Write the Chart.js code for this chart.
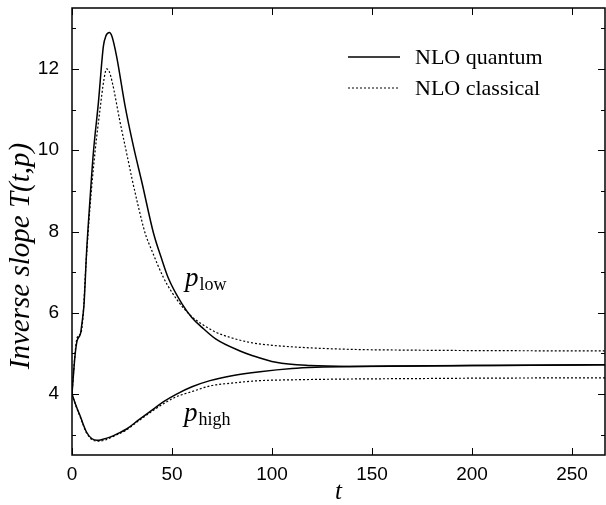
<!DOCTYPE html>
<html>
<head>
<meta charset="utf-8">
<script src="https://cdn.jsdelivr.net/npm/chart.js@4"></script>
<style>
  html, body { margin: 0; padding: 0; background: #fff; }
  #wrap { width: 606px; height: 505px; }
</style>
</head>
<body>
<div id="wrap"><canvas id="c"></canvas></div>
<script>
// p_low branch
const tLowQ = [0, 1.5, 2.5, 4.3, 5, 6, 7.3, 9, 10.7, 13.2, 15.7, 17, 18.7, 20, 22.3, 26.5, 30.7, 35, 40.7, 45, 48.2, 55, 60, 65, 72, 84, 90, 102, 119, 139, 170, 200, 230, 266.5];
const quantumLow = [4, 4.94, 5.3, 5.5, 5.75, 6.2, 7.5, 8.79, 9.95, 11.17, 12.56, 12.82, 12.9, 12.8, 12.31, 11.1, 10.1, 9.2, 7.97, 7.3, 6.85, 6.22, 5.88, 5.64, 5.35, 5.06, 4.95, 4.78, 4.7, 4.68, 4.69, 4.7, 4.71, 4.72];
const tLowC = [0, 1.2, 2.2, 3.5, 4.5, 5.5, 7, 9, 11.5, 14, 16, 17.3, 18.5, 20, 24, 27, 30, 33, 36.5, 40, 45.7, 50, 55, 60, 65, 72, 80, 89, 100, 114, 139, 170, 200, 230, 266.5];
const classicalLow = [4, 4.8, 5.3, 5.45, 5.5, 5.9, 7.2, 8.6, 9.95, 11.0, 11.75, 12.0, 11.95, 11.7, 10.7, 10.0, 9.3, 8.65, 7.97, 7.52, 6.87, 6.5, 6.16, 5.9, 5.72, 5.52, 5.38, 5.27, 5.2, 5.15, 5.1, 5.08, 5.07, 5.065, 5.06];

// p_high branch
const tHighQ = [0, 2, 4, 7.3, 10, 12.5, 15, 19, 23, 27.3, 33, 40.7, 46, 52.3, 60, 69, 80, 94, 110, 122, 140, 170, 200, 266.5];
const quantumHigh = [4, 3.72, 3.47, 3.06, 2.9, 2.86, 2.88, 2.94, 3.03, 3.14, 3.35, 3.63, 3.82, 4.0, 4.18, 4.33, 4.45, 4.55, 4.63, 4.66, 4.68, 4.69, 4.7, 4.72];
const tHighC = [0, 2, 4, 7.3, 10, 13, 16, 19, 23, 27.3, 33, 40.7, 46, 52, 60, 69, 80, 94, 110, 139, 170, 200, 266.5];
const classicalHigh = [4, 3.7, 3.45, 3.04, 2.88, 2.84, 2.86, 2.92, 3.01, 3.12, 3.33, 3.6, 3.77, 3.93, 4.06, 4.2, 4.27, 4.33, 4.35, 4.37, 4.38, 4.39, 4.4];

const xTicks = [0, 50, 100, 150, 200, 250];
const yTicks = [3, 4, 5, 6, 7, 8, 9, 10, 11, 12, 13];
const yLabelled = [4, 6, 8, 10, 12];

function pts(ts, vs) {
    return ts.map((t, i) => ({x: t, y: vs[i]}));
}

const serif = '"Liberation Serif", "DejaVu Serif", serif';
const sans = '"Liberation Sans", Arial, sans-serif';

const solid = {borderColor: '#000', borderWidth: 1.5, pointRadius: 0, fill: false, cubicInterpolationMode: 'monotone'};
const dotted = {borderColor: '#000', borderWidth: 1.2, borderDash: [2, 2], pointRadius: 0, fill: false, cubicInterpolationMode: 'monotone'};

// frame, inward ticks, axis titles, legend and branch labels
const decor = {
    id: 'decor',
    afterDatasetsDraw(chart) {
        const ctx = chart.ctx, a = chart.chartArea;
        const x = chart.scales.x, y = chart.scales.y;
        ctx.save();
        ctx.strokeStyle = '#000';
        ctx.lineWidth = 1.5;
        ctx.strokeRect(a.left, a.top, a.right - a.left, a.bottom - a.top);
        ctx.lineWidth = 1;
        ctx.beginPath();
        x.ticks.forEach(t => {
            const px = Math.round(x.getPixelForValue(t.value)) + 0.5;
            ctx.moveTo(px, a.bottom); ctx.lineTo(px, a.bottom - 7);
            ctx.moveTo(px, a.top); ctx.lineTo(px, a.top + 7);
        });
        y.ticks.forEach(t => {
            const py = Math.round(y.getPixelForValue(t.value)) + 0.5;
            const len = yLabelled.includes(t.value) ? 7 : 4;
            ctx.moveTo(a.left, py); ctx.lineTo(a.left + len, py);
            ctx.moveTo(a.right, py); ctx.lineTo(a.right - len, py);
        });
        ctx.stroke();

        ctx.fillStyle = '#000';
        // axis titles
        ctx.font = 'italic 25px ' + serif;
        ctx.textAlign = 'center';
        ctx.textBaseline = 'middle';
        ctx.fillText('t', (a.left + a.right) / 2, 492);
        ctx.save();
        ctx.translate(21, 256);
        ctx.rotate(-Math.PI / 2);
        ctx.font = 'italic 29px ' + serif;
        ctx.fillText('Inverse slope T(t,p)', 0, 0);
        ctx.restore();

        // legend
        const items = chart.data.datasets.filter(d => d.label);
        ctx.textAlign = 'left';
        ctx.font = '22px ' + serif;
        items.forEach((d, i) => {
            const ly = 57 + i * 31;
            ctx.save();
            ctx.lineWidth = d.borderWidth;
            ctx.setLineDash(d.borderDash || []);
            ctx.beginPath();
            ctx.moveTo(348, ly); ctx.lineTo(400, ly);
            ctx.stroke();
            ctx.restore();
            ctx.fillText(d.label, 415, ly + 1);
        });

        // branch labels
        ctx.textBaseline = 'alphabetic';
        [['low', 56.5, 6.67], ['high', 56, 3.34]].forEach(([sub, tv, yv]) => {
            const px = x.getPixelForValue(tv), py = y.getPixelForValue(yv);
            ctx.font = 'italic 27px ' + serif;
            ctx.fillText('p', px, py);
            const w = ctx.measureText('p').width;
            ctx.font = '18px ' + serif;
            ctx.fillText(sub, px + w + 1, py + 4);
        });
        ctx.restore();
    }
};

new Chart(document.getElementById('c'), {
    type: 'line',
    data: {
        datasets: [
            Object.assign({label: 'NLO quantum', data: pts(tLowQ, quantumLow)}, solid),
            Object.assign({label: 'NLO classical', data: pts(tLowC, classicalLow)}, dotted),
            Object.assign({label: '', data: pts(tHighQ, quantumHigh)}, solid),
            Object.assign({label: '', data: pts(tHighC, classicalHigh)}, dotted)
        ]
    },
    options: {
        responsive: true,
        maintainAspectRatio: false,
        animation: false,
        layout: {padding: {top: 8, right: 1, left: 0, bottom: 0}},
        plugins: {legend: {display: false}, tooltip: {enabled: false}},
        scales: {
            x: {
                type: 'linear',
                bounds: 'data',
                min: 0, max: 266.5,
                grid: {display: false, drawTicks: false},
                border: {display: false},
                afterFit: s => { s.height = 50; s.paddingLeft = 0; s.paddingRight = 0; },
                afterBuildTicks: s => { s.ticks = xTicks.map(v => ({value: v})); },
                ticks: {color: '#000', font: {family: sans, size: 19}, padding: 8, maxRotation: 0}
            },
            y: {
                bounds: 'data',
                min: 2.5, max: 13.5,
                grid: {display: false, drawTicks: false},
                border: {display: false},
                afterFit: s => { s.width = 72; s.paddingTop = 0; s.paddingBottom = 0; },
                afterBuildTicks: s => { s.ticks = yTicks.map(v => ({value: v})); },
                ticks: {
                    color: '#000', font: {family: sans, size: 19}, padding: 13,
                    callback: v => yLabelled.includes(v) ? String(v) : ''
                }
            }
        }
    },
    plugins: [decor]
});
</script>
</body>
</html>
